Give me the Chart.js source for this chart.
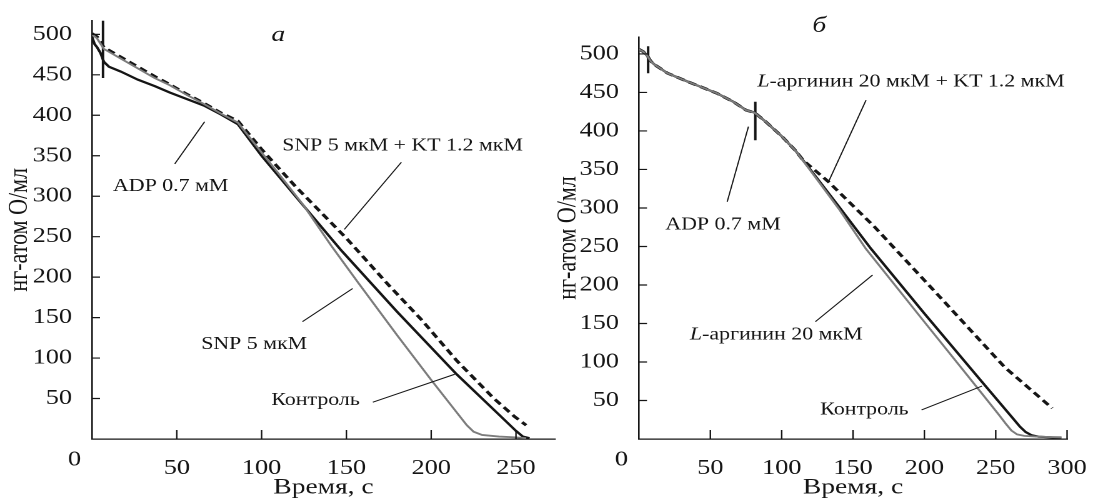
<!DOCTYPE html>
<html>
<head>
<meta charset="utf-8">
<script src="https://cdn.jsdelivr.net/npm/chart.js@4.4.1/dist/chart.umd.min.js"></script>
<style>
  html, body { margin: 0; padding: 0; background: #fff; }
  #wrap { position: relative; width: 1098px; height: 501px; overflow: hidden; }
  canvas { position: absolute; top: 0; }
</style>
</head>
<body>
<div id="wrap">
  <!-- the original figure is wider than its lettering, so draw narrow and show it 1.25x wide -->
  <canvas id="chartA" width="448" height="501" style="left:0;width:560px;height:501px"></canvas>
  <canvas id="chartB" width="440" height="501" style="left:548px;width:550px;height:501px"></canvas>
</div>
<script>
const SERIF = '"Liberation Serif", "Times New Roman", serif';
const INK = "#151515";

// ---- panel a: time (s) / O2 (ng-atom O/ml)
const aControlTime = [0, 1.5, 3, 5, 7, 10, 17, 27, 37, 46, 56, 66, 76, 86, 100, 120, 147, 180, 215, 240, 250, 254, 258];
const aControlO2 = [497, 488, 484, 477, 466, 460, 454, 444, 436, 428, 420, 412, 401, 389, 350, 300, 233, 157, 80, 30, 10, 3, 1];
const aSnpTime = [0, 3, 7, 17, 27, 37, 46, 56, 66, 76, 86, 100, 110, 125, 141, 157, 180, 200, 215, 221, 225, 230, 240, 250, 256];
const aSnpO2 = [500, 495, 482, 470, 458, 446, 437, 425, 414, 402, 391, 354, 328, 288, 239, 193, 128, 73, 33, 17, 9, 5, 3, 2, 1];
const aSnpKtTime = [0, 3, 7, 17, 27, 37, 46, 56, 66, 76, 86, 100, 120, 150, 175, 194, 215, 237, 249, 256];
const aSnpKtO2 = [501, 497, 484, 472, 460, 448, 438, 426, 415, 403, 393, 358, 312, 248, 190, 148, 97, 50, 28, 17];
const aSpikeTime = [6.5, 6.5];
const aSpikeO2 = [517, 446];

// ---- panel b: the three traces share the record up to ~110 s
const bEarlyTime = [0, 3, 6, 8, 11, 20, 31.6, 43, 54.5, 66, 75, 80.8, 88.8, 100.3, 109.4];
const bEarlyO2 = [506, 503, 497, 491, 486, 475, 466, 457.5, 449, 438, 427, 424, 412, 392.6, 375];
const bControlTime = [120, 140, 162.6, 200, 240, 262, 267, 271, 275, 280, 290, 296];
const bControlO2 = [350, 302, 247, 163, 75, 27, 16, 9, 5, 3, 2, 2];
const bArgTime = [120, 140, 159, 200, 230, 252, 257, 261, 265, 270, 280, 296];
const bArgO2 = [349, 299, 247, 152, 83, 32, 20, 11, 6, 4, 3, 2];
const bArgKtTime = [115, 132.8, 164.8, 210.6, 256.4, 289.6];
const bArgKtO2 = [362, 334, 276, 185, 93, 40];
const bSpike1Time = [6.4, 6.4];
const bSpike1O2 = [510, 475];
const bSpike2Time = [81.5, 81.5];
const bSpike2O2 = [438, 388];

const xTickStep = 50;
const yTickStep = 50;

function pts(xs, ys) {
  return xs.map((x, i) => ({ x: x, y: ys[i] }));
}

function trace(data, color, width, dash) {
  return {
    data: data,
    showLine: true,
    borderColor: color,
    borderWidth: width,
    borderDash: dash || [],
    pointRadius: 0,
    tension: 0,
    fill: false,
  };
}

// inward tick marks, the shared "0" in the corner, the call-out labels
const figureExtras = {
  id: "figureExtras",
  afterDraw(chart, args, opts) {
    const ctx = chart.ctx;
    const x = chart.scales.x;
    const y = chart.scales.y;
    ctx.save();
    ctx.strokeStyle = INK;
    ctx.lineWidth = 1.2;
    ctx.beginPath();
    x.ticks.forEach((t) => {
      if (t.value === 0) return;
      const px = x.getPixelForValue(t.value);
      ctx.moveTo(px, x.top);
      ctx.lineTo(px, x.top - 9);
    });
    y.ticks.forEach((t) => {
      if (t.value === 0) return;
      const py = y.getPixelForValue(t.value);
      ctx.moveTo(y.right, py);
      ctx.lineTo(y.right + 6.4, py);
    });
    ctx.stroke();

    ctx.fillStyle = INK;
    ctx.textBaseline = "middle";
    ctx.textAlign = "center";
    ctx.font = "21px " + SERIF;
    ctx.fillText("0", x.left - 14, x.top + 21);

    ctx.lineWidth = 1;
    opts.notes.forEach((n) => {
      if (n.from) {
        ctx.beginPath();
        ctx.moveTo(x.getPixelForValue(n.from[0]), y.getPixelForValue(n.from[1]));
        ctx.lineTo(x.getPixelForValue(n.to[0]), y.getPixelForValue(n.to[1]));
        ctx.stroke();
      }
      const fonts = n.parts.map((p) => (p[1] ? "italic " : "") + n.size + "px " + SERIF);
      let total = 0;
      const widths = n.parts.map((p, i) => {
        ctx.font = fonts[i];
        const w = ctx.measureText(p[0]).width;
        total += w;
        return w;
      });
      let cx = x.getPixelForValue(n.at[0]) - total / 2;
      const cy = y.getPixelForValue(n.at[1]);
      ctx.textAlign = "left";
      n.parts.forEach((p, i) => {
        ctx.font = fonts[i];
        ctx.fillText(p[0], cx, cy);
        cx += widths[i];
      });
    });
    ctx.restore();
  },
};

function makePanel(canvas, datasets, xMax, yMax, yWidth, pad, yTitlePad, notes) {
  return new Chart(canvas, {
    type: "scatter",
    data: { datasets: datasets },
    plugins: [figureExtras],
    options: {
      responsive: false,
      devicePixelRatio: 2,
      animation: false,
      events: [],
      layout: { padding: pad },
      plugins: {
        legend: { display: false },
        tooltip: { enabled: false },
        figureExtras: { notes: notes },
      },
      scales: {
        x: {
          type: "linear",
          min: 0,
          max: xMax,
          afterFit: (s) => { s.height = 62; },
          grid: { display: false },
          border: { display: true, color: INK, width: 1.3 },
          ticks: {
            stepSize: xTickStep,
            includeBounds: false,
            padding: 9,
            color: INK,
            font: { family: SERIF, size: 21 },
            callback: (v) => (v === 0 ? "" : v),
          },
          title: {
            display: true,
            text: "Время, с",
            color: INK,
            font: { family: SERIF, size: 22 },
            padding: { top: 0, bottom: 0 },
          },
        },
        y: {
          type: "linear",
          min: 0,
          max: yMax,
          afterFit: (s) => { s.width = yWidth; },
          grid: { display: false },
          border: { display: true, color: INK, width: 1.3 },
          ticks: {
            stepSize: yTickStep,
            includeBounds: false,
            padding: 8,
            color: INK,
            font: { family: SERIF, size: 21 },
            callback: (v) => (v === 0 ? "" : v),
          },
          title: {
            display: true,
            text: "нг-атом О/мл",
            color: INK,
            font: { family: SERIF, size: 22, lineHeight: 0.6 },
            padding: { top: yTitlePad, bottom: 0 },
          },
        },
      },
    },
  });
}

makePanel(
  document.getElementById("chartA"),
  [
    trace(pts(aSnpTime, aSnpO2), "#7c7c7c", 1.8),
    trace(pts(aControlTime, aControlO2), INK, 2.2),
    trace(pts(aSnpKtTime, aSnpKtO2), INK, 2.8, [6.5, 4]),
    trace(pts(aSpikeTime, aSpikeO2), INK, 2),
  ],
  273, 517, 73.6, { top: 15, right: 4, left: 0, bottom: 0 }, 9,
  [
    { parts: [["а", true]], size: 22, at: [109.8, 499] },
    { parts: [["ADP 0.7 мМ", false]], size: 17.5, at: [46.4, 312], from: [48.8, 340], to: [66.4, 392] },
    { parts: [["SNP 5 мкМ + KT 1.2 мкМ", false]], size: 17.5, at: [183.1, 362], from: [182.4, 342], to: [148.8, 259] },
    { parts: [["SNP 5 мкМ", false]], size: 17.5, at: [95.6, 117], from: [124.1, 145], to: [153.7, 186] },
    { parts: [["Контроль", false]], size: 17.5, at: [131.8, 47.6], from: [165.6, 45.5], to: [213.9, 80] },
  ]
);

makePanel(
  document.getElementById("chartB"),
  [
    trace(pts(bEarlyTime.concat(bArgTime), bEarlyO2.concat(bArgO2)), "#7c7c7c", 1.8),
    trace(pts(bEarlyTime.concat(bControlTime), bEarlyO2.concat(bControlO2)), INK, 2.2),
    trace(pts(bEarlyTime.concat(bArgKtTime), bEarlyO2.concat(bArgKtO2)), INK, 2.8, [6.5, 4]),
    trace(pts(bSpike1Time, bSpike1O2), INK, 2),
    trace(pts(bSpike2Time, bSpike2O2), INK, 2),
  ],
  300, 522, 72.8, { top: 37, right: 16.8, left: 0, bottom: 0 }, 9.7,
  [
    { parts: [["б", true]], size: 22, at: [126.4, 536] },
    { parts: [["L", true], ["-аргинин 20 мкМ + KT 1.2 мкМ", false]], size: 17.5, at: [190.6, 463.6], from: [159.1, 440], to: [132.8, 334] },
    { parts: [["ADP 0.7 мМ", false]], size: 17.5, at: [58.9, 278], from: [61.8, 308], to: [76.7, 405.6] },
    { parts: [["L", true], ["-аргинин 20 мкМ", false]], size: 17.5, at: [96.2, 135], from: [123.6, 152.3], to: [163.7, 213] },
    { parts: [["Контроль", false]], size: 17.5, at: [158, 37.7], from: [198, 37.7], to: [240.4, 68.8] },
  ]
);
</script>
</body>
</html>
